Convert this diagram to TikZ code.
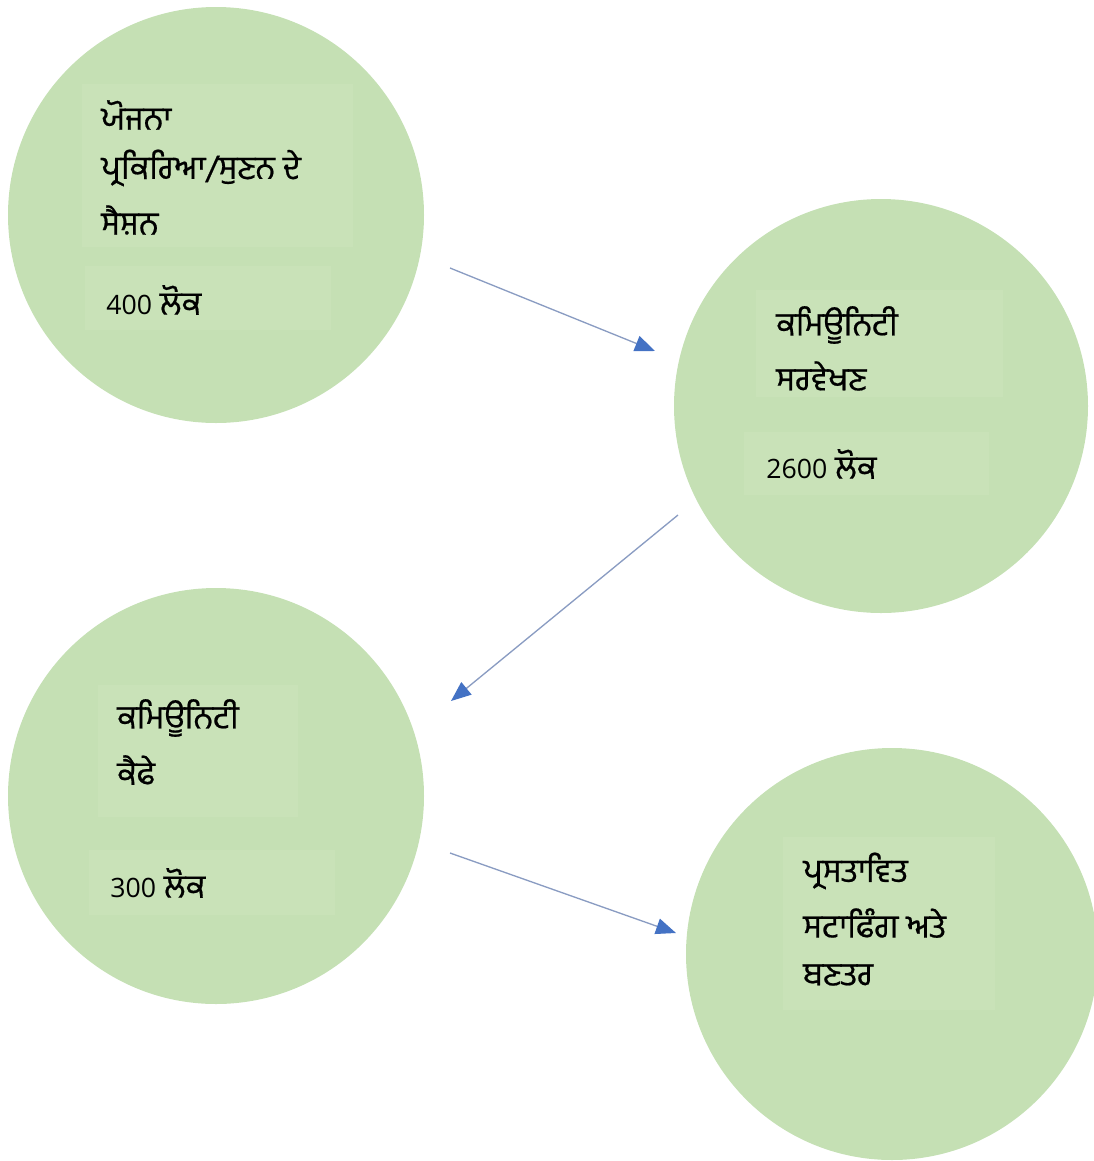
\documentclass[tikz,border=0pt]{standalone}
\usepackage{fontspec}
\newfontfamily\gurfont[Script=Gurmukhi,FakeBold=0.6]{Hind Jalandhar}
\newfontfamily\digfont{Open Sans}
\usetikzlibrary{arrows.meta}
\definecolor{circgreen}{HTML}{C5E0B4}
\definecolor{boxgreen}{HTML}{C9E2B8}
\definecolor{arrline}{HTML}{8A9CC2}
\definecolor{arrhead}{HTML}{4472C4}
\newcommand{\dig}[1]{{\digfont\fontsize{20}{24}\selectfont #1}}
\tikzset{
  bubble/.style={circle, fill=circgreen, draw=none, inner sep=0pt},
  tbox/.style={fill=boxgreen, draw=none},
  lbl/.style={anchor=west, inner sep=0pt, font=\gurfont\fontsize{24.5}{30}\selectfont, align=left, text=black},
  flow/.style={draw=arrline, line width=1pt, -{Triangle[length=15pt,width=12pt,color=arrhead]}},
}
\begin{document}
\begin{tikzpicture}[x=0.75pt,y=-0.75pt]
\useasboundingbox (0,0) rectangle (1094,1161);
% circles
\node[bubble, minimum size=416*0.75pt] (c1) at (216,215) {};
\node[bubble, minimum size=414*0.75pt] (c2) at (881,406) {};
\node[bubble, minimum size=416*0.75pt] (c3) at (216,796) {};
\node[bubble, minimum size=412*0.75pt] (c4) at (892,954) {};
% text boxes
\fill[tbox] (82,84) rectangle (353,247);
\fill[tbox] (85,266) rectangle (331,330);
\fill[tbox] (756,290) rectangle (1003,397);
\fill[tbox] (744,432) rectangle (989,495);
\fill[tbox] (98,685) rectangle (298,817);
\fill[tbox] (89,850) rectangle (335,915);
\fill[tbox] (783,837) rectangle (995,1010);
% labels
\node[lbl] (t1a) at (101,115) {ਯੋਜਨਾ};
\node[lbl] (t1b) at (101,168) {ਪ੍ਰਕਿਰਿਆ/ਸੁਣਨ ਦੇ};
\node[lbl] (t1c) at (101,220) {ਸੈਸ਼ਨ};
\node[lbl] (t1d) at (106,300) {\dig{400} ਲੋਕ};
\node[lbl] (t2a) at (776,325) {ਕਮਿਊਨਿਟੀ};
\node[lbl] (t2b) at (776,376) {ਸਰਵੇਖਣ};
\node[lbl] (t2c) at (766,464) {\dig{2600} ਲੋਕ};
\node[lbl] (t3a) at (117,718) {ਕਮਿਊਨਿਟੀ};
\node[lbl] (t3b) at (117,770) {ਕੈਫੇ};
\node[lbl] (t3c) at (110,883) {\dig{300} ਲੋਕ};
\node[lbl] (t4a) at (803,871) {ਪ੍ਰਸਤਾਵਿਤ};
\node[lbl] (t4b) at (803,923) {ਸਟਾਫਿੰਗ ਅਤੇ};
\node[lbl] (t4c) at (803,975) {ਬਣਤਰ};
% arrow ends
\coordinate (a1s) at (450,268);
\coordinate (a1e) at (655,351);
\coordinate (a2s) at (678,515);
\coordinate (a2e) at (451,701);
\coordinate (a3s) at (450,853);
\coordinate (a3e) at (676,933);
\draw[flow] (a1s) -- (a1e);
\draw[flow] (a2s) -- (a2e);
\draw[flow] (a3s) -- (a3e);
\end{tikzpicture}
\end{document}
